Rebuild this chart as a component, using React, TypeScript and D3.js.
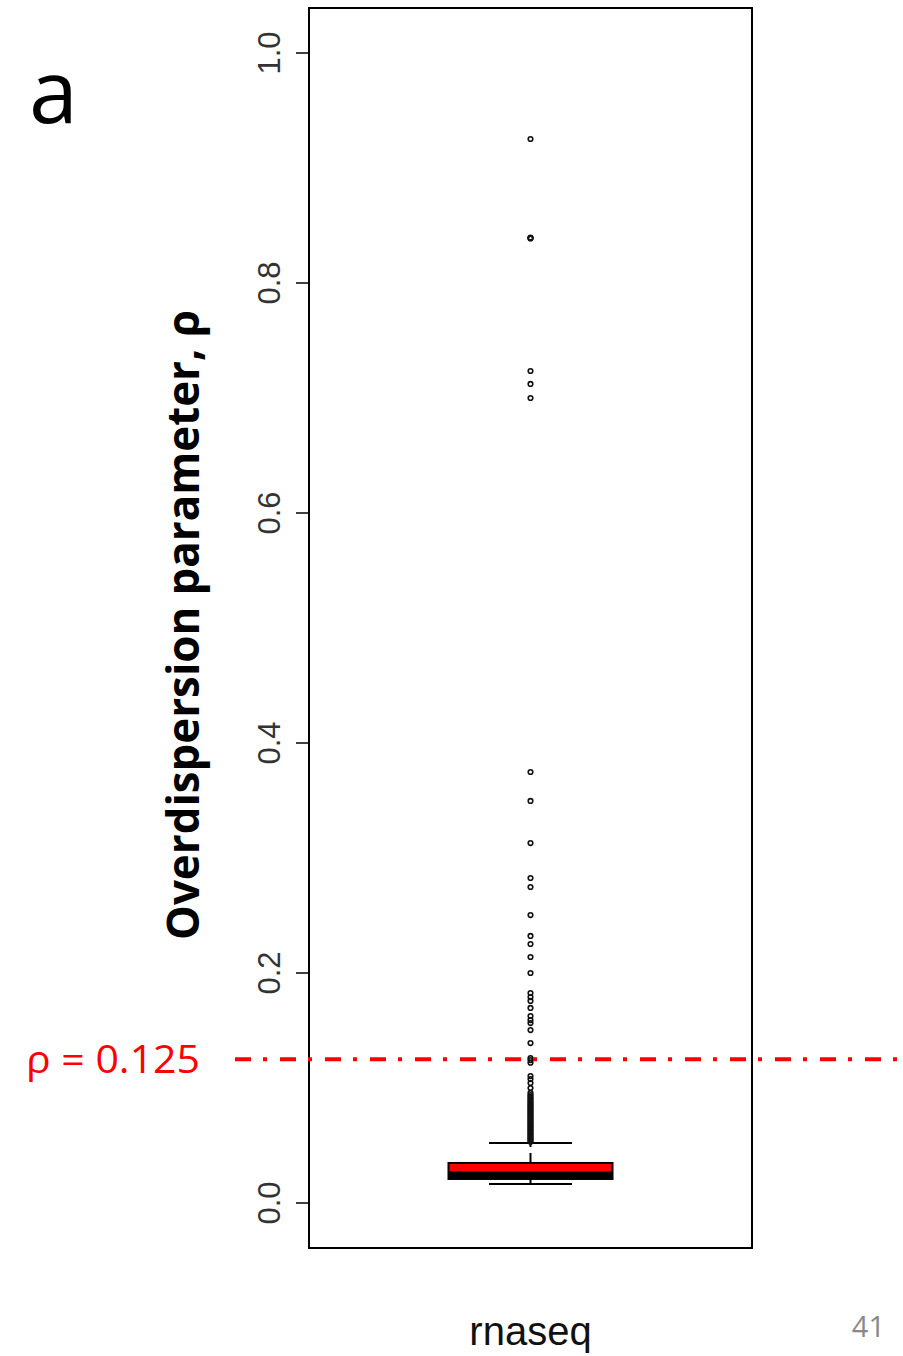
import React from "react";
import * as d3 from "d3";

const categories = ["rnaseq"];
const boxStats = { lowerWhisker: 0.0165, q1: 0.0209, median: 0.0245, q3: 0.0348, upperWhisker: 0.0522 };
const outliers = [
  0.9252, 0.8394, 0.8391, 0.8388, 0.7235, 0.7122, 0.7,
  0.3748, 0.3496, 0.313, 0.2826, 0.2748, 0.2504, 0.2322, 0.2252, 0.2139, 0.2,
  0.1826, 0.1791, 0.1757, 0.1696, 0.1626, 0.1591, 0.1565, 0.1504, 0.1391, 0.1261,
  0.1243, 0.122, 0.1104, 0.1078, 0.1043, 0.1, 0.0957,
  0.0939, 0.0925, 0.091, 0.0896, 0.0882, 0.0868, 0.0855, 0.0842, 0.0829, 0.0816,
  0.0803, 0.079, 0.0777, 0.0764, 0.0751, 0.0738, 0.0725, 0.0712, 0.07, 0.0688,
  0.0676, 0.0664, 0.0652, 0.064, 0.0628, 0.0616, 0.0604, 0.0592, 0.058, 0.0568,
  0.0556, 0.0544, 0.0532,
];
const yTicks = [0, 0.2, 0.4, 0.6, 0.8, 1.0];
const threshold = 0.125;

export default function App() {
  const W = 903, H = 1356;
  const frame = { left: 309, right: 752, top: 8, bottom: 1248 };
  const y = d3.scaleLinear().domain([0, 1]).range([1203, 53]);
  const x = d3.scaleBand().domain(categories).range([frame.left, frame.right]).padding(0);
  const cx = (x(categories[0]) ?? 0) + x.bandwidth() / 2;
  const boxW = 164, capW = 83;

  return (
    <svg width={W} height={H} style={{ position: "absolute", left: 0, top: 0, background: "#fff" }}>
      {/* panel letter */}
      <text x={29} y={123} fontFamily="Open Sans" fontSize={88} fill="#000">a</text>

      {/* frame */}
      <rect x={frame.left} y={frame.top} width={frame.right - frame.left} height={frame.bottom - frame.top}
        fill="none" stroke="#000" strokeWidth={2} />

      {/* y ticks */}
      {yTicks.map((t) => (
        <g key={t}>
          <line x1={296} x2={frame.left} y1={y(t)} y2={y(t)} stroke="#000" strokeWidth={1.5} />
          <text transform={`translate(280,${y(t)}) rotate(-90)`} textAnchor="middle"
            fontFamily="Liberation Sans, Arial" fontSize={31} fill="#333">{t.toFixed(1)}</text>
        </g>
      ))}

      {/* y title */}
      <text transform={`translate(199,625) rotate(-90)`} textAnchor="middle" fontFamily="Open Sans"
        fontWeight="bold" fontSize={44} textLength={630} lengthAdjust="spacingAndGlyphs" fill="#000">
        Overdispersion parameter, ρ
      </text>

      {/* whiskers */}
      <line x1={cx} x2={cx} y1={y(boxStats.q3)} y2={y(boxStats.upperWhisker)} stroke="#000" strokeWidth={2} strokeDasharray="10,6" />
      <line x1={cx} x2={cx} y1={y(boxStats.q1)} y2={y(boxStats.lowerWhisker)} stroke="#000" strokeWidth={2} strokeDasharray="10,6" />
      <line x1={cx - capW / 2} x2={cx + capW / 2} y1={y(boxStats.upperWhisker)} y2={y(boxStats.upperWhisker)} stroke="#000" strokeWidth={2} />
      <line x1={cx - capW / 2} x2={cx + capW / 2} y1={y(boxStats.lowerWhisker)} y2={y(boxStats.lowerWhisker)} stroke="#000" strokeWidth={2} />

      {/* box */}
      <rect x={cx - boxW / 2} y={y(boxStats.q3)} width={boxW} height={y(boxStats.q1) - y(boxStats.q3)}
        fill="#ff0000" stroke="#000" strokeWidth={2} />
      <line x1={cx - boxW / 2} x2={cx + boxW / 2} y1={y(boxStats.median)} y2={y(boxStats.median)} stroke="#000" strokeWidth={6.5} />

      {/* outliers */}
      {outliers.map((v, i) => (
        <circle key={i} cx={cx} cy={y(v)} r={2.3} fill="none" stroke="#111" strokeWidth={1.6} />
      ))}

      {/* threshold line */}
      <line x1={235} x2={897} y1={y(threshold)} y2={y(threshold)} stroke="#ff0000" strokeWidth={4}
        strokeDasharray="16,12,4,13" />
      <text x={200} y={1073} textAnchor="end" fontFamily="Open Sans" fontSize={39} fill="#ff0000"
        textLength={174} lengthAdjust="spacingAndGlyphs">ρ = 0.125</text>

      {/* category label */}
      <text x={cx} y={1345} textAnchor="middle" fontFamily="Liberation Sans, Arial" fontSize={40} fill="#111">
        {categories[0]}
      </text>

      {/* page number */}
      <text x={885} y={1337} textAnchor="end" fontFamily="Open Sans" fontSize={29} fill="#888">41</text>
    </svg>
  );
}
